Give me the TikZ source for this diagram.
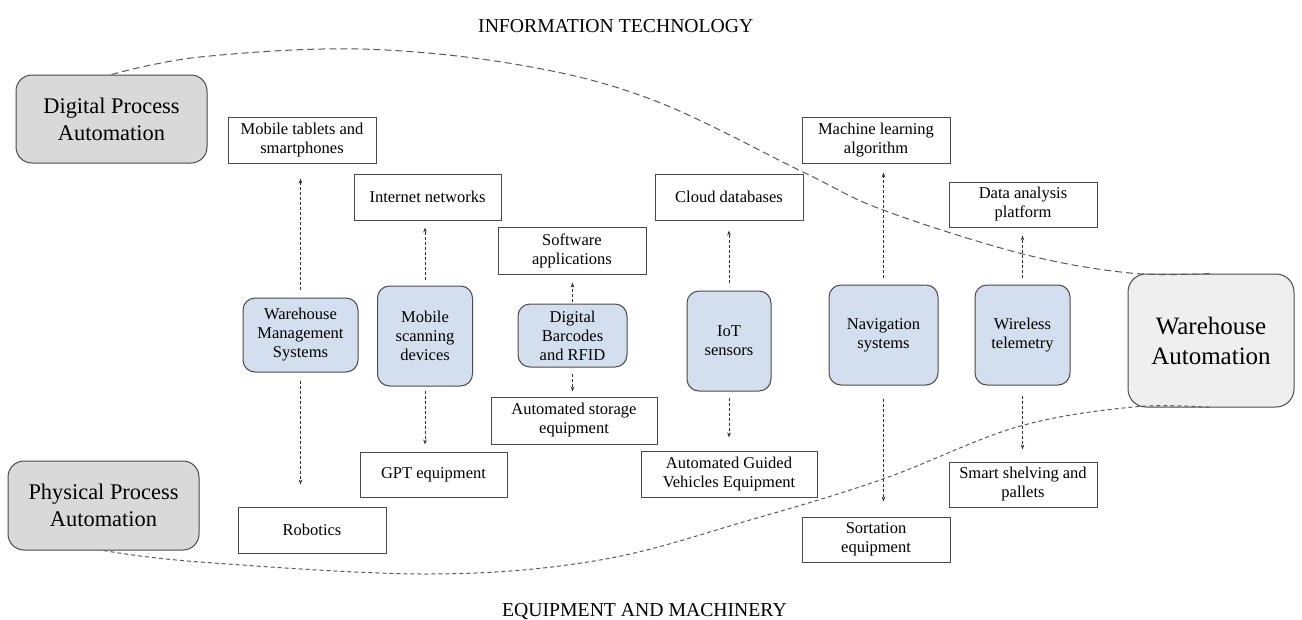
\documentclass[tikz,border=0pt]{standalone}
\usepackage{fontspec}
\setmainfont{Liberation Serif}
\usetikzlibrary{arrows.meta}
\definecolor{techblue}{HTML}{D3DFEE}
\definecolor{procgray}{HTML}{D9D9D9}
\definecolor{hubgray}{HTML}{EFEFEF}
\definecolor{edge}{HTML}{4A4A4A}
\newcommand\fsz[2]{\fontsize{#1}{#2}\selectfont}
\begin{document}
\begin{tikzpicture}[x=1pt,y=-1pt,
  box/.style={draw=edge, line width=1pt, inner sep=0pt, align=center},
  item/.style={box, fill=white, font=\fsz{16.5}{19}},
  tech/.style={box, fill=techblue, rounded corners=12pt, font=\fsz{16.5}{19}},
  proc/.style={box, fill=procgray, rounded corners=16pt, font=\fsz{22.4}{27}},
  hub/.style={box, fill=hubgray, rounded corners=18pt, font=\fsz{25}{30}},
  link/.style={densely dashed, line width=0.8pt, draw=black!80,
    -{Stealth[length=5pt,width=3.6pt]}},
  curve/.style={line width=1pt, draw=black!65},
  heading/.style={inner sep=0pt, font=\fsz{19.7}{22}}]
\useasboundingbox (0,0) rectangle (1302,619);

% headings
\node[heading, anchor=base west] (ithead) at (478,32) {INFORMATION TECHNOLOGY};
\node[heading, anchor=base west] (eqhead) at (502,616) {EQUIPMENT AND MACHINERY};

% process categories and the hub
\node[proc, minimum width=191, minimum height=88] (dpa) at (111.5,119) {Digital Process\\Automation};
\node[proc, minimum width=191, minimum height=89] (ppa) at (103.5,505.5) {Physical Process\\Automation};
\node[hub, minimum width=166, minimum height=133] (wa) at (1211,340.5) {Warehouse\\Automation};

% information technology items
\node[item, minimum width=148, minimum height=46] (mtab) at (302,140) {Mobile tablets and\\smartphones};
\node[item, minimum width=147, minimum height=46] (inet) at (427.5,197) {Internet networks};
\node[item, minimum width=148, minimum height=47] (soft) at (572,250.5) {Software\\applications};
\node[item, minimum width=148, minimum height=46] (cloud) at (729,197) {Cloud databases};
\node[item, minimum width=148, minimum height=46] (ml) at (876,140) {Machine learning\\algorithm};
\node[item, minimum width=148, minimum height=45] (data) at (1023,204.5) {Data analysis\\platform};

% technologies
\node[tech, minimum width=115, minimum height=74] (wms) at (300.5,335) {Warehouse\\Management\\Systems};
\node[tech, minimum width=95, minimum height=100] (mscan) at (425,336) {Mobile\\scanning\\devices};
\node[tech, minimum width=109, minimum height=63] (dbar) at (572.5,335.5) {Digital\\Barcodes\\and RFID};
\node[tech, minimum width=84, minimum height=100] (iot) at (729,341) {IoT\\sensors};
\node[tech, minimum width=109, minimum height=100] (nav) at (883.5,335) {Navigation\\systems};
\node[tech, minimum width=95, minimum height=100] (wire) at (1022.5,335) {Wireless\\telemetry};

% equipment and machinery items
\node[item, minimum width=148, minimum height=46] (robo) at (312,530) {Robotics};
\node[item, minimum width=147, minimum height=45] (gpt) at (433.5,474.5) {GPT equipment};
\node[item, minimum width=166, minimum height=47] (astor) at (574,420.5) {Automated storage\\equipment};
\node[item, minimum width=176, minimum height=46] (agv) at (729,474) {Automated Guided\\Vehicles Equipment};
\node[item, minimum width=148, minimum height=45] (sort) at (876,539.5) {Sortation\\equipment};
\node[item, minimum width=148, minimum height=45] (smart) at (1023,484.5) {Smart shelving and\\pallets};

% links up to information technology
\draw[link, shorten <=8pt, shorten >=15pt] (wms.north) -- (wms.north |- mtab.south);
\draw[link, shorten <=6pt, shorten >=7pt] (mscan.north) -- (mscan.north |- inet.south);
\draw[link, shorten <=2pt, shorten >=8pt] (dbar.north) -- (dbar.north |- soft.south);
\draw[link, shorten <=8pt, shorten >=10pt] (iot.north) -- (iot.north |- cloud.south);
\draw[link, shorten <=7pt, shorten >=9pt] (nav.north) -- (nav.north |- ml.south);
\draw[link, shorten <=7pt, shorten >=8pt] (wire.north) -- (wire.north |- data.south);

% links down to equipment and machinery
\draw[link, shorten <=8pt, shorten >=22pt] (wms.south) -- (wms.south |- robo.north);
\draw[link, shorten <=4pt, shorten >=7pt] (mscan.south) -- (mscan.south |- gpt.north);
\draw[link, shorten <=6pt, shorten >=5pt] (dbar.south) -- (dbar.south |- astor.north);
\draw[link, shorten <=6pt, shorten >=13pt] (iot.south) -- (iot.south |- agv.north);
\draw[link, shorten <=13pt, shorten >=15pt] (nav.south) -- (nav.south |- sort.north);
\draw[link, shorten <=10pt, shorten >=12pt] (wire.south) -- (wire.south |- smart.north);

% boundaries joining the categories to the hub
\draw[curve, dash pattern=on 7pt off 4pt] plot[smooth, tension=0.6] coordinates
  {(dpa.north) (200,57) (360,49) (520,65) (653,100) (803,172) (883,210) (1023,254) (1130,273) (wa.north)};
\draw[curve, dash pattern=on 4pt off 3pt] plot[smooth, tension=0.6] coordinates
  {(ppa.south) (200,562) (430,574) (600,560) (750,520) (883,479) (1017,427) (1133,407) (wa.south)};
\end{tikzpicture}
\end{document}
